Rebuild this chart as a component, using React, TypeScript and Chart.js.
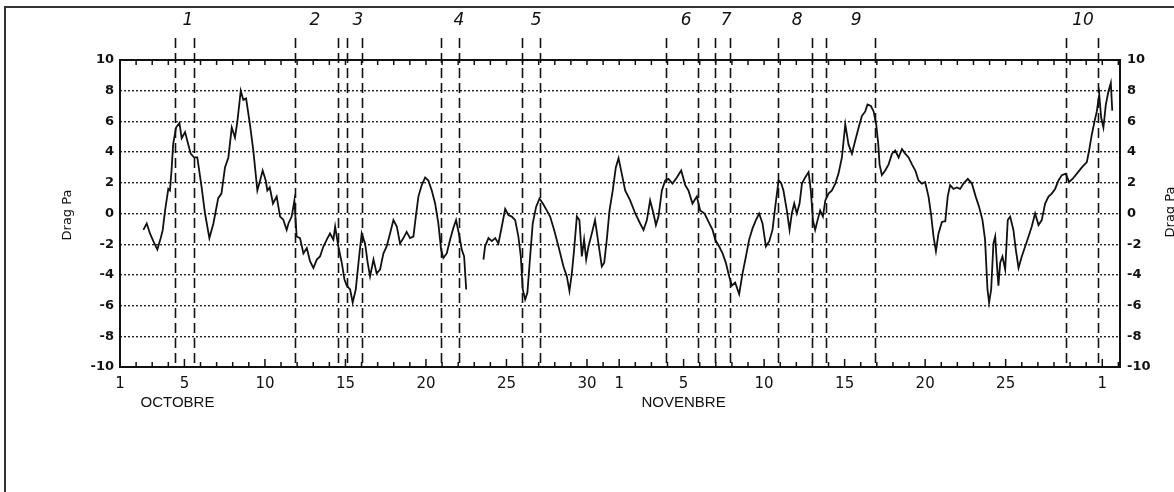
import React, { useEffect, useRef } from "react";
import Chart from "chart.js/auto";

// Day index counted from 1 October (0 = Oct 1)
const days: number[] = [
  1.45, 1.66, 1.86, 2.07, 2.32, 2.53, 2.65, 2.8, 3.0, 3.1, 3.2, 3.3, 3.48, 3.69, 3.83, 4.04, 4.24, 4.39, 4.6, 4.8,
  5.07, 5.28, 5.55, 5.8, 6.1, 6.3, 6.52, 6.73, 6.94, 7.14, 7.29, 7.5, 7.66, 7.83, 8.07, 8.28, 8.53, 8.7, 8.86, 9.05,
  9.15, 9.3, 9.5, 9.73, 9.94, 10.14, 10.35, 10.46, 10.66, 10.83, 10.97, 11.18, 11.39, 11.6, 11.8, 12.01, 12.22, 12.42,
  12.63, 12.84, 13.04, 13.25, 13.36, 13.56, 13.77, 13.94, 14.08, 14.29, 14.45, 14.64, 14.85, 15.01, 15.22, 15.38,
  15.53, 15.74, 15.94, 16.15, 16.36, 16.56, 16.77, 16.98, 17.19, 17.39, 17.6, 17.8, 18.01, 18.22, 18.37, 18.53,
  18.74, 18.95, 19.15, 19.36, 19.57, 19.77, 19.94, 20.08, 20.29, 20.5, 20.7, 20.87, 21.08, 21.22, 21.37, 21.5,
  22.0,
  22.57, 22.67, 22.88, 23.09, 23.3, 23.5, 23.71, 23.92, 24.12, 24.33, 24.54, 24.74, 24.89, 25.01, 25.16, 25.3,
  25.47, 25.63, 25.84, 26.05, 26.26, 26.5, 26.71, 26.96, 27.23, 27.54, 27.75, 27.91, 28.06, 28.2, 28.37, 28.53,
  28.68, 28.82, 28.95, 29.09, 29.3, 29.5, 29.71, 29.92, 30.07, 30.23, 30.4, 30.6, 30.79, 30.96, 31.16, 31.37,
  31.68, 32.0, 32.3, 32.51, 32.72, 32.92, 33.13, 33.28, 33.44, 33.65, 33.86, 34.06, 34.31, 34.58, 34.85, 35.1,
  35.3, 35.55, 35.82, 36.03, 36.3, 36.55, 36.8, 36.96, 37.21, 37.42, 37.62, 37.83, 38.0, 38.2, 38.45, 38.66,
  38.87, 39.07, 39.28, 39.49, 39.69, 39.9, 40.11, 40.32, 40.52, 40.69, 40.9, 41.05, 41.2, 41.41, 41.58, 41.72,
  41.87, 42.03, 42.2, 42.35, 42.55, 42.76, 42.9, 43.03, 43.17, 43.32, 43.48, 43.65, 43.8, 44.0, 44.21, 44.42,
  44.62, 44.83, 45.04, 45.24, 45.45, 45.66, 45.87, 46.07, 46.28, 46.42, 46.63, 46.8, 46.96, 47.09, 47.17, 47.31,
  47.52, 47.73, 47.94, 48.14, 48.35, 48.56, 48.76, 48.97, 49.18, 49.39, 49.59, 49.8, 50.0, 50.21, 50.36, 50.52,
  50.67, 50.83, 51.04, 51.25, 51.4, 51.55, 51.76, 51.96, 52.17, 52.38, 52.65, 52.9, 53.14, 53.35, 53.56, 53.72,
  53.87, 53.97, 54.1, 54.24, 54.35, 54.45, 54.55, 54.66, 54.8, 54.97, 55.13, 55.28, 55.48, 55.63, 55.8, 56.0,
  56.21, 56.42, 56.62, 56.83, 57.04, 57.24, 57.45, 57.66, 57.86, 58.07, 58.28, 58.49, 58.73, 58.94, 59.15, 59.42,
  59.73, 60.04, 60.18, 60.35, 60.52, 60.66, 60.81, 60.93, 61.07, 61.22, 61.38, 61.53, 61.62,
];

const drag: (number | null)[] = [
  -1.07, -0.65, -1.3, -1.8, -2.35, -1.6, -1.1, 0.2, 1.6, 1.5, 2.8, 4.5, 5.6, 5.9, 4.9, 5.3, 4.5, 3.9, 3.65, 3.65,
  1.7, 0, -1.6, -0.65, 1.0, 1.3, 3.0, 3.65, 5.6, 4.95, 6.0, 8.0, 7.4, 7.5, 5.8, 4.1, 1.5, 2.15, 2.8, 2.15,
  1.5, 1.7, 0.65, 1.1, -0.2, -0.4, -1.07, -0.65, -0.2, 0.85, -1.5, -1.6, -2.6, -2.25, -3.1, -3.55, -3.0, -2.8,
  -2.15, -1.7, -1.3, -1.7, -0.85, -2.15, -3.2, -4.3, -4.7, -4.95, -5.8, -4.95, -2.8, -1.3, -1.95, -3.2,
  -4.1, -3.0, -3.9, -3.65, -2.6, -2.15, -1.3, -0.43, -0.85, -1.95, -1.6, -1.2, -1.6, -1.5, -0.2, 1.1,
  1.85, 2.35, 2.15, 1.5, 0.65, -0.65, -2.35, -2.9, -2.6, -1.7, -0.95, -0.43, -1.5, -2.35, -2.8, -4.95,
  null,
  -3.0, -2.15, -1.6, -1.8, -1.6, -1.95, -0.85, 0.3, -0.1, -0.2, -0.43, -1.5, -2.8, -4.95, -5.6, -5.15,
  -2.8, -0.65, 0.43, 0.97, 0.65, 0.2, -0.2, -1.07, -2.15, -3.45, -4.1, -5.05, -3.9, -2.35, -0.2, -0.43,
  -2.8, -1.7, -3.0, -2.15, -1.3, -0.43, -1.95, -3.45, -3.2, -1.7, 0.2, 1.5, 3.0, 3.6, 2.6, 1.5,
  0.85, 0, -0.65, -1.07, -0.43, 0.85, 0, -0.75, -0.2, 1.5, 2.15, 2.25, 1.95, 2.35, 2.8, 1.85,
  1.5, 0.65, 1.1, 0.2, 0, -0.55, -1.07, -1.7, -2.15, -2.6, -3.2, -4.1, -4.7, -4.5, -5.25, -3.9,
  -2.8, -1.7, -0.97, -0.43, 0, -0.65, -2.15, -1.8, -1.07, 0.43, 2.15, 2.0, 1.5, 0.2, -1.07, 0,
  0.65, 0, 0.65, 1.95, 2.35, 2.7, 1.5, -0.43, -1.07, -0.43, 0.2, -0.2, 0.85, 1.3, 1.5, 1.95,
  2.6, 3.65, 5.8, 4.5, 3.9, 4.75, 5.6, 6.35, 6.65, 7.1, 7.0, 6.65, 5.8, 4.5, 3.2, 2.5,
  2.8, 3.2, 3.9, 4.1, 3.65, 4.2, 3.9, 3.65, 3.2, 2.8, 2.15, 1.95, 2.05, 1.1, 0, -1.5,
  -2.45, -1.3, -0.55, -0.5, 1.1, 1.85, 1.6, 1.7, 1.6, 1.95, 2.25, 1.95, 1.1, 0.43, -0.43, -1.7,
  -4.95, -5.8, -4.95, -1.95, -1.5, -3.2, -4.7, -3.2, -2.8, -3.65, -0.43, -0.2, -1.07, -2.35, -3.55, -2.8,
  -2.15, -1.5, -0.85, 0, -0.75, -0.43, 0.65, 1.1, 1.3, 1.6, 2.15, 2.5, 2.6, 2.05, 2.25, 2.6,
  3.0, 3.35, 4.1, 5.15, 6.0, 6.65, 7.75, 6.25, 5.6, 7.1, 7.95, 8.5, 6.7,
];

// X tick labels (day index -> label)
const xTickDays: number[] = [0, 4, 9, 14, 19, 24, 29, 31, 35, 40, 45, 50, 55, 61];
const xTickLabels: string[] = ["1", "5", "10", "15", "20", "25", "30", "1", "5", "10", "15", "20", "25", "1"];

const monthLabels: string[] = ["OCTOBRE", "NOVENBRE"];
const monthLabelDays: number[] = [3.57, 35.0];

// Vertical dashed event lines
const eventLineDays: number[] = [
  3.42, 4.6, 10.87, 13.54, 14.08, 15.03, 19.94, 21.06, 24.97, 26.06, 33.91, 35.9, 36.93, 37.86, 40.84, 42.98,
  43.85, 46.89, 58.76, 60.75,
];
const eventNumbers: string[] = ["1", "2", "3", "4", "5", "6", "7", "8", "9", "10"];
const eventNumberDays: number[] = [4.22, 12.11, 14.78, 21.05, 25.84, 35.16, 37.64, 42.05, 45.71, 59.81];

const yMin = -10;
const yMax = 10;
const xMin = 0;
const xMax = 62.1;

const overlayPlugin = {
  id: "overlay",
  beforeDraw(chart: any) {
    const ctx = chart.ctx;
    ctx.save();
    ctx.fillStyle = "#ffffff";
    ctx.fillRect(0, 0, chart.width, chart.height);
    ctx.restore();
  },
  afterDraw(chart: any) {
    const ctx = chart.ctx;
    const { left, right, top, bottom } = chart.chartArea;
    const xs = chart.scales.x;
    ctx.save();

    // frame
    ctx.strokeStyle = "#111";
    ctx.lineWidth = 2;
    ctx.setLineDash([]);
    ctx.strokeRect(left, top, right - left, bottom - top);

    // inward tick marks, top and bottom
    ctx.lineWidth = 1.5;
    for (let d = 0; d <= 62; d++) {
      const px = xs.getPixelForValue(d);
      const major = xTickDays.indexOf(d) >= 0;
      const len = major ? 8 : 5;
      ctx.beginPath();
      ctx.moveTo(px, bottom);
      ctx.lineTo(px, bottom - len);
      ctx.moveTo(px, top);
      ctx.lineTo(px, top + 5);
      ctx.stroke();
    }

    // event dashed lines
    ctx.lineWidth = 1.6;
    ctx.setLineDash([10, 5]);
    ctx.strokeStyle = "#111";
    eventLineDays.forEach((d) => {
      const px = Math.round(xs.getPixelForValue(d)) + 0.5;
      ctx.beginPath();
      ctx.moveTo(px, top - 22);
      ctx.lineTo(px, bottom);
      ctx.stroke();
    });
    ctx.setLineDash([]);

    // event numbers
    ctx.fillStyle = "#111";
    ctx.font = 'italic 17px "DejaVu Sans"';
    ctx.textAlign = "center";
    ctx.textBaseline = "middle";
    eventNumbers.forEach((t, i) => {
      ctx.fillText(t, xs.getPixelForValue(eventNumberDays[i]), 21);
    });

    // month labels
    ctx.font = '15px "Liberation Sans"';
    ctx.textBaseline = "middle";
    monthLabels.forEach((t, i) => {
      ctx.fillText(t, xs.getPixelForValue(monthLabelDays[i]), 403);
    });

    // axis titles
    ctx.font = '13px "DejaVu Sans"';
    ctx.save();
    ctx.translate(68, 215);
    ctx.rotate(-Math.PI / 2);
    ctx.fillText("Drag Pa", 0, 0);
    ctx.restore();
    ctx.save();
    ctx.translate(1171, 212);
    ctx.rotate(-Math.PI / 2);
    ctx.fillText("Drag Pa", 0, 0);
    ctx.restore();

    // outer border of the scan
    ctx.strokeStyle = "#333";
    ctx.lineWidth = 2;
    ctx.beginPath();
    ctx.moveTo(5, 492);
    ctx.lineTo(5, 7);
    ctx.lineTo(1174, 7);
    ctx.stroke();

    ctx.restore();
  },
};

export default function App() {
  const canvasRef = useRef<HTMLCanvasElement | null>(null);

  useEffect(() => {
    document.body.style.margin = "0";
    const canvas = canvasRef.current;
    if (!canvas) return;
    const points = days.map((d, i) => ({ x: d, y: drag[i] }));
    const chart = new Chart(canvas, {
      type: "line",
      data: {
        datasets: [
          {
            data: points as any,
            borderColor: "#111",
            borderWidth: 1.8,
            pointRadius: 0,
            tension: 0,
            spanGaps: false,
          },
        ],
      },
      options: {
        responsive: false,
        animation: false,
        devicePixelRatio: 1,
        layout: { padding: { top: 60, left: 0, right: 0, bottom: 0 } },
        plugins: { legend: { display: false }, tooltip: { enabled: false } },
        scales: {
          x: {
            type: "linear",
            min: xMin,
            max: xMax,
            afterFit: (s: any) => {
              s.height = 125;
            },
            grid: { display: false, drawTicks: false },
            border: { display: false },
            ticks: {
              stepSize: 1,
              autoSkip: false,
              maxRotation: 0,
              padding: 8,
              color: "#111",
              font: { family: '"DejaVu Sans"', size: 15 },
              callback: (v: any) => {
                const i = xTickDays.indexOf(Number(v));
                return i >= 0 ? xTickLabels[i] : "";
              },
            },
          },
          y: {
            position: "left",
            min: yMin,
            max: yMax,
            afterFit: (s: any) => {
              s.width = 120;
            },
            grid: {
              drawTicks: false,
              lineWidth: 1.4,
              color: (c: any) => (Math.abs(c.tick?.value) === 10 ? "rgba(0,0,0,0)" : "#222"),
            },
            border: { display: false, dash: [2, 2] },
            ticks: {
              stepSize: 2,
              padding: 6,
              color: "#111",
              font: { family: '"DejaVu Sans"', size: 13, weight: "bold" },
            },
          },
          y2: {
            position: "right",
            min: yMin,
            max: yMax,
            afterFit: (s: any) => {
              s.width = 54;
            },
            grid: { display: false, drawTicks: false },
            border: { display: false },
            ticks: {
              stepSize: 2,
              padding: 7,
              color: "#111",
              font: { family: '"DejaVu Sans"', size: 13, weight: "bold" },
            },
          },
        },
      },
      plugins: [overlayPlugin],
    });
    return () => chart.destroy();
  }, []);

  return (
    <div style={{ position: "fixed", left: 0, top: 0, width: 1174, height: 492, background: "#fff" }}>
      <canvas ref={canvasRef} width={1174} height={492} style={{ display: "block", width: 1174, height: 492 }} />
    </div>
  );
}
